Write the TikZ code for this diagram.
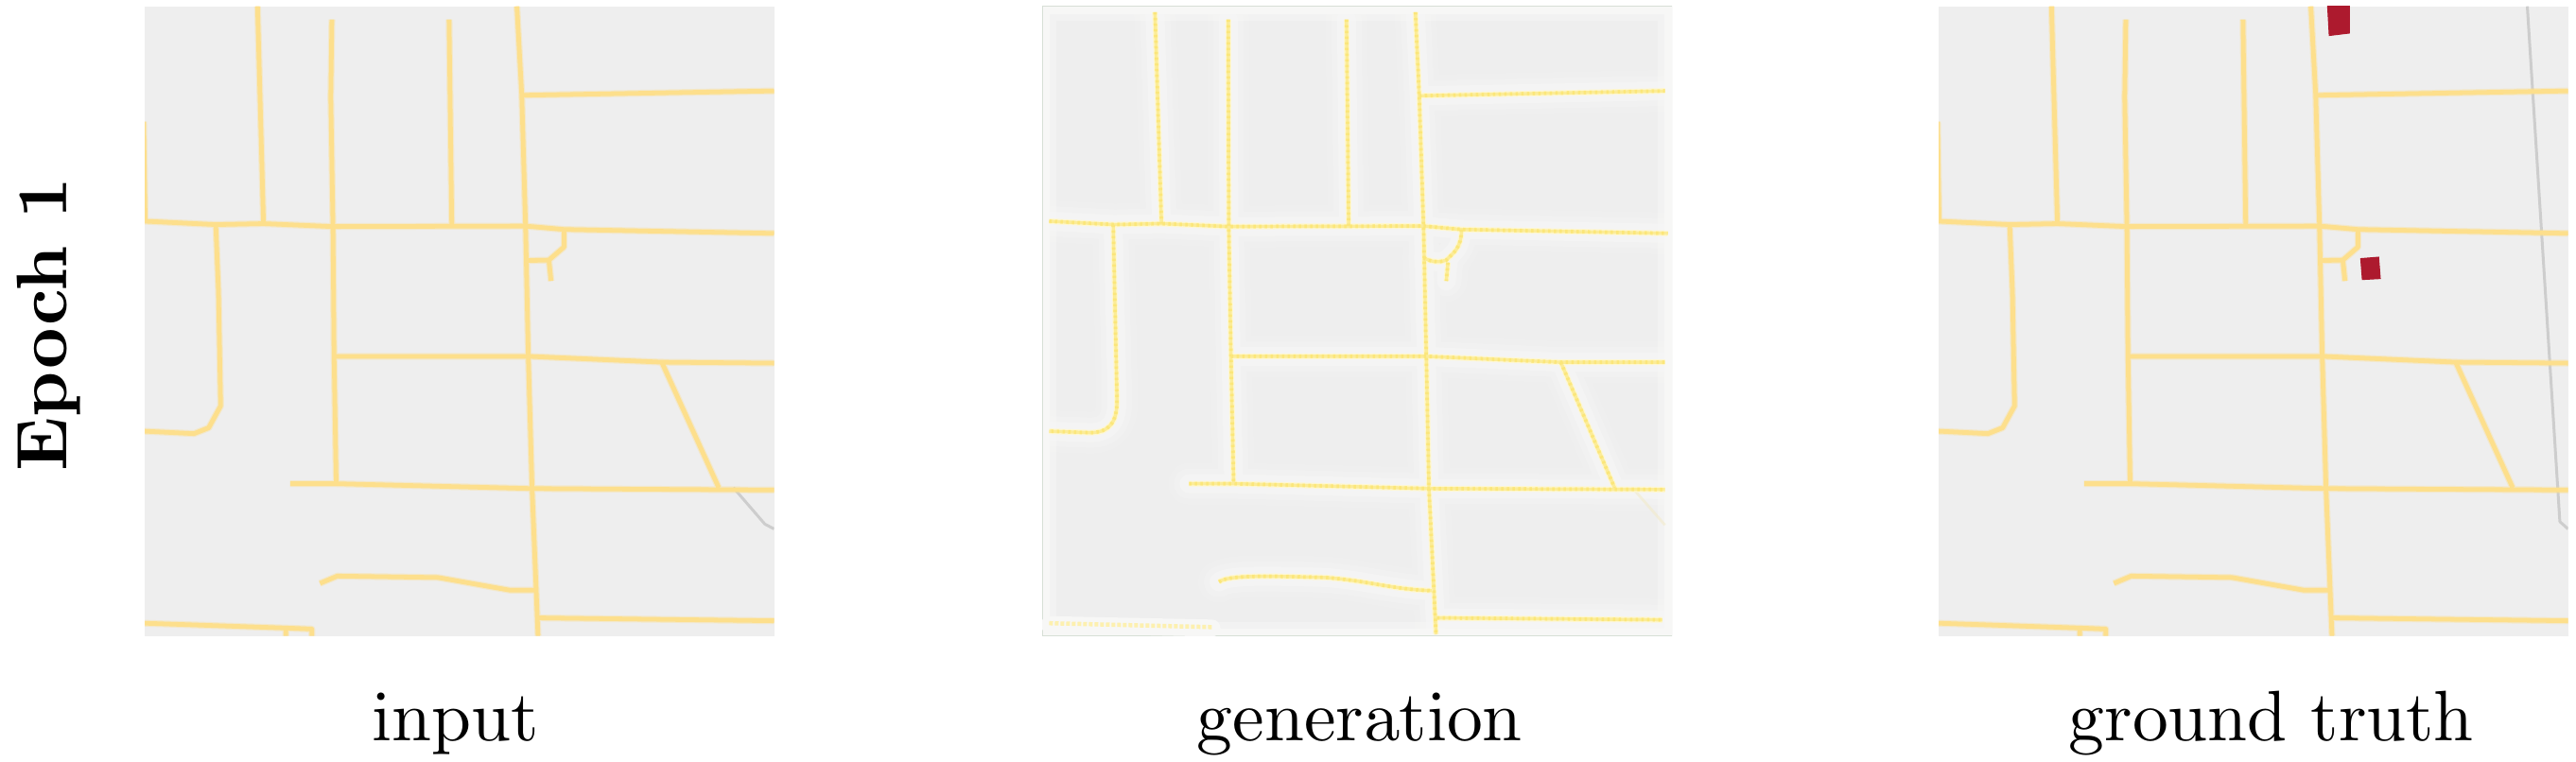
\documentclass[tikz,border=0pt]{standalone}
\usepackage{tikz}
\definecolor{panelbg}{HTML}{EEEEEE}
\definecolor{genbg}{HTML}{EEEEEE}
\definecolor{road}{HTML}{FDDF8C}
\definecolor{graymap}{HTML}{CDCDCD}
\definecolor{house}{HTML}{AD1A2E}
\definecolor{genroad}{HTML}{FBE25F}
\definecolor{genhalo}{HTML}{F7F7F6}
\font\lblfont=cmr10 at 21.5pt
\font\bldfont=cmbx10 at 21.5pt
\newcommand{\roadnet}{%
  (475,13)--(486,460)
  (612,40)--(610,200)--(614,465)--(616,730)--(620,995)
  (828,40)--(833,465)
  (953,13)--(962,195)--(969,465)--(974,730)--(981,1005)--(992,1308)
  (962,196)--(1427,187)
  (267,455)--(398,462)--(486,460)--(612,466)--(969,465)--(1040,472)--(1427,480)
  (398,462)--(403,600)--(407,835)--(385,880)--(358,892)--(267,887)
  (265,250)--(268,455)
  (616,733)--(974,733)--(1220,745)--(1427,747)
  (1220,745)--(1325,1003)
  (535,995)--(620,995)--(981,1005)--(1427,1008)
  (1040,472)--(1040,508)--(1012,535)--(968,536)
  (1012,535)--(1016,578)
  (590,1200)--(622,1185)--(808,1188)--(940,1214)--(988,1214)
  (992,1271)--(1427,1277)
  (267,1282)--(530,1292)--(575,1294)--(575,1308)
  (527,1292)--(527,1308)
}
\newcommand{\gennet}{%
  (385,25)--(397,460)
  (520,40)--(521,465)--(525,730)--(530,995)
  (738,40)--(742,465)
  (865,25)--(872,195)--(880,465)--(885,730)--(890,1005)--(903,1305)
  (872,197)--(1325,187)
  (190,455)--(310,462)--(397,460)--(520,466)--(880,465)--(950,472)--(1330,480)
  (308,462)--(315,820) .. controls (316,870) and (300,890) .. (265,890)--(190,887)
  (525,733)--(885,733)--(1130,745)--(1325,745)
  (1133,745)--(1232,1003)
  (448,995)--(530,995)--(890,1005)--(1325,1007)
  (950,472) .. controls (950,510) and (935,520) .. (922,535) .. controls (910,540) and (895,540) .. (880,530)
  (925,540)--(922,578)
  (503,1197) .. controls (520,1182) and (600,1185) .. (700,1188) .. controls (780,1195) and (820,1212) .. (895,1215)
  (905,1271)--(1320,1275)
}
\tikzset{
  mapscope/.style={x=0.0057414cm,y=-0.0051429cm},
  roadglow/.style={draw=road,line width=0.072cm,opacity=.35,line join=round},
  roadline/.style={draw=road,line width=0.048cm,line join=round},
  grayroad/.style={draw=graymap,line width=0.03cm,line join=round},
  housefill/.style={fill=house,draw=house,line width=0.01cm},
  halo/.style={draw=genhalo,line join=round,line cap=round},
  caption/.style={inner sep=0pt,anchor=base}
}
\begin{document}
\begin{tikzpicture}
\useasboundingbox (0,0) rectangle (27.24,-8.06);
% input panel
\begin{scope}[shift={(1.53cm,-0.067cm)},mapscope,shift={(-267,-13)}]
  \fill[panelbg] (267,13) rectangle (1427,1308);
  \clip (267,13) rectangle (1427,1308);
  \draw[grayroad] (1352,1003)--(1410,1078)--(1427,1088);
  \path[roadglow] \roadnet;
  \path[roadline] \roadnet;
\end{scope}
% generation panel
\begin{scope}[shift={(11.02cm,-0.067cm)},mapscope,shift={(-177,-13)}]
  \fill[genbg] (177,13) rectangle (1338,1308);
  \clip (177,13) rectangle (1338,1308);
  \path[halo,line width=0.44cm,opacity=.2] \gennet;
  \path[halo,line width=0.32cm,opacity=.35] \gennet;
  \path[halo,line width=0.20cm,opacity=.6] \gennet;
  \draw[genhalo,line width=0.30cm,opacity=.5] (177,13) rectangle (1338,1308);
  \draw[genhalo,line width=0.16cm] (177,13) rectangle (1338,1308);
  \draw[panelbg!85!green!70!black,line width=0.012cm,opacity=.3] (177,13) rectangle (1338,1308);
  \draw[halo,line width=0.18cm] (190,1285)--(490,1292);
  \draw[draw=genroad!50!white,line width=0.045cm,dash pattern=on 0.04cm off 0.02cm] (190,1282)--(490,1290);
  \draw[draw=genroad!30!genbg,line width=0.028cm,opacity=.5] (1270,1010)--(1325,1080);
  \path[draw=genroad!28!white,line width=0.06cm,line join=round] \gennet;
  \path[draw=genroad!65!white,line width=0.034cm,line join=round] \gennet;
  \path[draw=genroad,line width=0.04cm,dash pattern=on 0.025cm off 0.035cm,opacity=.5] \gennet;
\end{scope}
% ground truth panel
\begin{scope}[shift={(20.50cm,-0.067cm)},mapscope,shift={(-267,-13)}]
  \fill[panelbg] (267,13) rectangle (1427,1308);
  \clip (267,13) rectangle (1427,1308);
  \draw[grayroad] (1352,13)--(1412,1073)--(1427,1088);
  \path[roadglow] \roadnet;
  \path[roadline] \roadnet;
  \fill[housefill] (984,13)--(1024,13)--(1024,68)--(987,73)--cycle;
  \fill[housefill] (1045,532)--(1078,529)--(1081,573)--(1048,575)--cycle;
\end{scope}
% labels
\node[caption] (inputlabel) at (4.82,-7.83) {\lblfont input};
\node[caption] (genlabel) at (14.38,-7.83) {\lblfont generation};
\node[caption] (gtlabel) at (24.02,-7.83) {\lblfont ground truth};
\node[caption,rotate=90] (epochlabel) at (0.70,-3.43) {\bldfont Epoch 1};
\end{tikzpicture}
\end{document}
